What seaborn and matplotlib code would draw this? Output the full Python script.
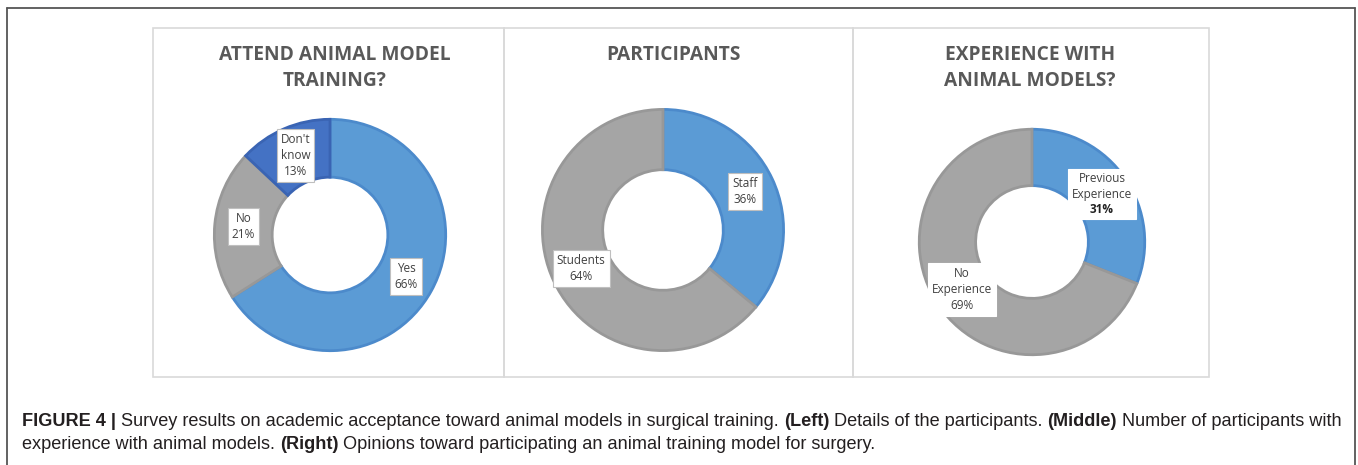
import matplotlib
matplotlib.use("Agg")
import matplotlib.pyplot as plt
import seaborn as sns
from matplotlib.lines import Line2D
from matplotlib.patches import Rectangle
import numpy as np

sns.set_theme(style="white")
plt.rcParams['font.family'] = ['Open Sans', 'DejaVu Sans']

# ---- data ----
titles = ["ATTEND ANIMAL MODEL\nTRAINING?", "PARTICIPANTS", "EXPERIENCE WITH\nANIMAL MODELS?"]
attend_labels = ["Yes", "No", "Don't\nknow"]
attend_values = [66, 21, 13]
part_labels = ["Staff", "Students"]
part_values = [36, 64]
exp_labels = ["Previous\nExperience", "No\nExperience"]
exp_values = [31, 69]

BLUE = "#5B9BD5"
GREY = "#A5A5A5"
DBLUE = "#4472C4"
attend_colors = [BLUE, GREY, DBLUE]
part_colors = [BLUE, GREY]
exp_colors = [BLUE, GREY]

W, H = 1358, 465
fig = plt.figure(figsize=(W / 100, H / 100), dpi=100)
fig.patch.set_facecolor("white")

def px_axes(cx, cy, r):
    return fig.add_axes([(cx - r) / W, 1 - (cy + r) / H, 2 * r / W, 2 * r / H])

# outer frame (left, top, right)
frame_c = "#555555"
fig.add_artist(Line2D([7 / W, 7 / W], [0, 1 - 8 / H], color=frame_c, lw=1.3, transform=fig.transFigure))
fig.add_artist(Line2D([7 / W, 1355 / W], [1 - 8 / H, 1 - 8 / H], color=frame_c, lw=1.3, transform=fig.transFigure))
fig.add_artist(Line2D([1355 / W, 1355 / W], [0, 1 - 8 / H], color=frame_c, lw=1.3, transform=fig.transFigure))

# panel boxes
edges = [153, 504, 853, 1209]
top, bot = 28, 377
for i in range(3):
    fig.add_artist(Rectangle((edges[i] / W, 1 - bot / H), (edges[i + 1] - edges[i]) / W, (bot - top) / H,
                             fill=False, edgecolor="#D9D9D9", lw=1.2, transform=fig.transFigure))

panels = [
    (attend_values, attend_labels, attend_colors, (330, 235, 118), [False, False, False], [True, True, True]),
    (part_values, part_labels, part_colors, (663, 230, 123), [False, False], [True, True]),
    (exp_values, exp_labels, exp_colors, (1032, 242, 115), [True, False], [False, False]),
]
title_x = [335, 673, 1030]

edge_cols = {BLUE: "#4C8ACB", GREY: "#989898", DBLUE: "#3A64B3"}
LFS = 8.5

fig.canvas.draw()
renderer = fig.canvas.get_renderer()

for k, (vals, labs, cols, (cx, cy, r), boldpct, boxedge) in enumerate(panels):
    ax = px_axes(cx, cy, r)
    wedges, _ = ax.pie(vals, colors=cols, startangle=90, counterclock=False, radius=1.0,
                       wedgeprops=dict(width=0.5, linewidth=2.0))
    for w, c in zip(wedges, cols):
        w.set_edgecolor(edge_cols[c])
    ax.set_xlim(-1.02, 1.02)
    ax.set_ylim(-1.02, 1.02)
    ax.set_aspect("equal")
    ax.axis("off")
    total = sum(vals)
    inv = ax.transData.inverted()
    for w, lab, v, bp, be in zip(wedges, labs, vals, boldpct, boxedge):
        ang = np.deg2rad((w.theta1 + w.theta2) / 2)
        x, y = 0.75 * np.cos(ang), 0.75 * np.sin(ang)
        pct = f"{round(100 * v / total)}%"
        if bp:
            # label on top, bold percentage below, joint white box behind
            lt = ax.text(x, y, lab, ha="center", va="center", fontsize=LFS,
                         color="#404040", linespacing=1.3, zorder=5)
            bb1 = lt.get_window_extent(renderer=renderer)
            dy = (bb1.height / 2 + 1) / r
            lt.set_position((x, y + dy * 0.55))
            bb1 = lt.get_window_extent(renderer=renderer)
            _, py = inv.transform((0, bb1.y0 - 9))
            pt = ax.text(x, py, pct, ha="center", va="center", fontsize=LFS,
                         color="#222222", fontweight="bold", zorder=5)
            bb2 = pt.get_window_extent(renderer=renderer)
            x0 = min(bb1.x0, bb2.x0) - 4
            x1 = max(bb1.x1, bb2.x1) + 4
            y0 = bb2.y0 - 3
            y1 = bb1.y1 + 3
            (dx0, dy0), (dx1, dy1) = inv.transform((x0, y0)), inv.transform((x1, y1))
            ax.add_patch(Rectangle((dx0, dy0), dx1 - dx0, dy1 - dy0, fc="white",
                                   ec="#BFBFBF" if be else "white", lw=0.8, zorder=4))
        else:
            ax.text(x, y, lab + "\n" + pct, ha="center", va="center", fontsize=LFS,
                    color="#404040", linespacing=1.3,
                    bbox=dict(boxstyle="square,pad=0.35", fc="white",
                              ec="#BFBFBF" if be else "white", lw=0.8))
    fig.text(title_x[k] / W, 1 - 45 / H, titles[k], ha="center", va="top", fontsize=13.8,
             fontweight="bold", color="#595959", linespacing=1.4)

# caption with mixed bold segments
cap_family = ['Liberation Sans', 'DejaVu Sans']
line1 = [("FIGURE 4 | ", True), ("Survey results on academic acceptance toward animal models in surgical training. ", False),
         ("(Left)", True), (" Details of the participants. ", False), ("(Middle)", True),
         (" Number of participants with", False)]
line2 = [("experience with animal models. ", False), ("(Right)", True),
         (" Opinions toward participating an animal training model for surgery.", False)]

for line, ypx in [(line1, 426), (line2, 449)]:
    xpx = 22
    for txt, bold in line:
        t = fig.text(xpx / W, 1 - ypx / H, txt, ha="left", va="baseline", fontsize=13.05,
                     family=cap_family, fontweight="bold" if bold else "normal", color="#231F20")
        bb = t.get_window_extent(renderer=renderer)
        xpx += bb.width

fig.savefig("out.png", dpi=100, facecolor="white")
